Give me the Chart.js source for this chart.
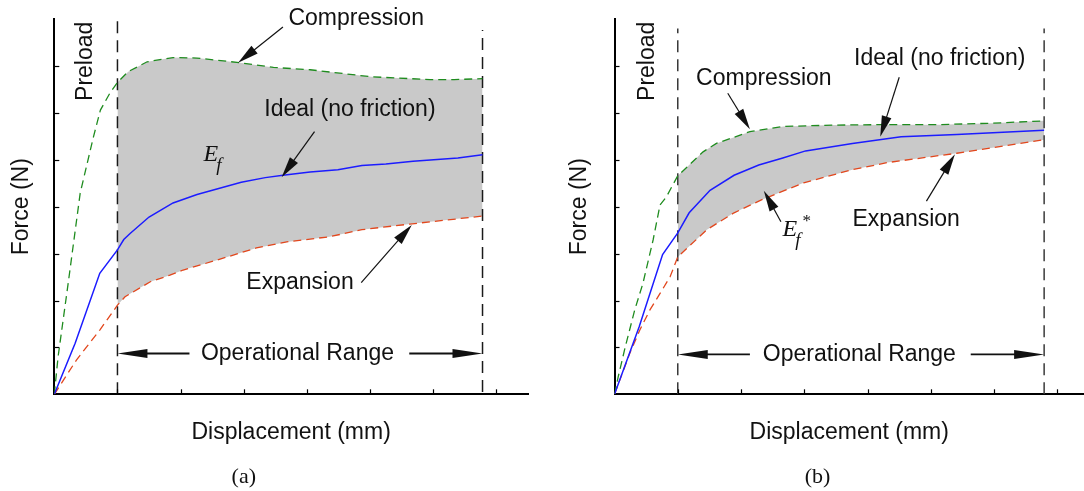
<!DOCTYPE html>
<html><head><meta charset="utf-8">
<script src="https://cdn.jsdelivr.net/npm/chart.js@4.4.1/dist/chart.umd.min.js"></script>
<style>
html,body{margin:0;padding:0;background:#fff;width:1084px;height:491px;overflow:hidden}
.wrap{position:absolute;top:0;height:491px}
#wa{left:0;width:540px}
#wb{left:540px;width:544px}
canvas{display:block}
</style></head><body>
<div class="wrap" id="wa"><canvas id="ca" width="540" height="491"></canvas></div>
<div class="wrap" id="wb"><canvas id="cb" width="544" height="491"></canvas></div>
<script>
// ---------- data (panel a) ----------
const aCompX  = [0, 0.06, 0.22, 0.41, 0.62, 0.73, 0.88, 1.0, 1.17, 1.47, 1.88, 2.26, 2.94, 3.47, 4.05, 5.02, 5.95, 6.33, 6.78];
const aCompY  = [0, 0.80, 2.37, 4.29, 5.49, 6.06, 6.42, 6.65, 6.88, 7.09, 7.18, 7.17, 7.07, 6.97, 6.92, 6.77, 6.71, 6.71, 6.73];
const aIdealX = [0, 0.33, 0.72, 1.0, 1.10, 1.20, 1.50, 1.88, 2.26, 2.96, 3.34, 3.62, 4.05, 4.49, 4.87, 5.25, 5.68, 6.39, 6.78];
const aIdealY = [0, 1.09, 2.58, 3.08, 3.30, 3.43, 3.78, 4.08, 4.26, 4.52, 4.62, 4.67, 4.74, 4.79, 4.88, 4.91, 4.97, 5.04, 5.11];
const aExpX   = [0, 0.35, 0.72, 1.0, 1.12, 1.52, 1.83, 2.04, 2.57, 3.20, 3.68, 4.36, 4.87, 5.63, 6.78];
const aExpY   = [0, 0.73, 1.37, 1.90, 2.08, 2.40, 2.54, 2.65, 2.86, 3.12, 3.25, 3.36, 3.51, 3.63, 3.80];
const aRange  = [1.0, 6.78];
// ---------- data (panel b) ----------
const bCompX  = [0, 0.06, 0.17, 0.32, 0.45, 0.61, 0.72, 0.82, 1.0, 1.40, 1.61, 2.14, 2.67, 3.46, 4.31, 5.13, 5.96, 6.79];
const bCompY  = [0, 0.38, 1.01, 1.80, 2.37, 3.29, 4.04, 4.21, 4.66, 5.17, 5.35, 5.60, 5.71, 5.74, 5.75, 5.75, 5.78, 5.83];
const bIdealX = [0, 0.39, 0.76, 1.0, 1.18, 1.51, 1.89, 2.28, 2.66, 3.02, 3.76, 4.53, 5.41, 6.79];
const bIdealY = [0, 1.44, 2.98, 3.44, 3.87, 4.35, 4.67, 4.89, 5.04, 5.19, 5.35, 5.49, 5.54, 5.63];
const bExpX   = [0, 0.24, 0.40, 0.56, 0.72, 0.88, 1.0, 1.46, 1.89, 2.33, 2.99, 3.76, 4.31, 5.41, 6.79];
const bExpY   = [0, 0.87, 1.37, 1.80, 2.15, 2.51, 2.93, 3.51, 3.87, 4.15, 4.51, 4.79, 4.94, 5.14, 5.43];
const bRange  = [1.0, 6.79];
// ---------- ticks / labels ----------
const tickValues = [1, 2, 3, 4, 5, 6, 7];
const xTitle = 'Displacement (mm)';
const yTitle = 'Force (N)';

const FONT = "'Liberation Sans', Arial, Helvetica, sans-serif";
const SERIF = "'Liberation Serif', 'Times New Roman', serif";
const GREEN = '#1f8c1f', RED = '#e2471d', BLUE = '#1c1cff', GRAY = '#c9c9c9';

function pts(xs, ys) { return xs.map((x, i) => ({x: x, y: ys[i]})); }
function band(xs, ys, lo, hi) { return pts(xs, ys).filter(p => p.x >= lo - 1e-9 && p.x <= hi + 1e-9); }

function arrow(ctx, x1, y1, x2, y2, len, half, lw) {
  const a = Math.atan2(y2 - y1, x2 - x1), c = Math.cos(a), s = Math.sin(a);
  ctx.lineWidth = lw;
  ctx.beginPath(); ctx.moveTo(x1, y1); ctx.lineTo(x2 - c * len * 0.9, y2 - s * len * 0.9); ctx.stroke();
  const bx = x2 - c * len, by = y2 - s * len;
  ctx.beginPath(); ctx.moveTo(x2, y2);
  ctx.lineTo(bx - s * half, by + c * half);
  ctx.lineTo(bx + s * half, by - c * half);
  ctx.closePath(); ctx.fill();
}

const annotPlugin = {
  id: 'annot',
  afterDraw(chart, args, o) {
    const ctx = chart.ctx, x = chart.scales.x, y = chart.scales.y;
    const px = v => x.getPixelForValue(v), py = v => y.getPixelForValue(v);
    ctx.save();
    // inward tick marks
    ctx.strokeStyle = '#000'; ctx.lineWidth = 1.2;
    tickValues.forEach(v => {
      const X = Math.round(px(v)) + 0.5;
      ctx.beginPath(); ctx.moveTo(X, py(0)); ctx.lineTo(X, py(0) - 5); ctx.stroke();
      const Y = Math.round(py(v)) + 0.5;
      ctx.beginPath(); ctx.moveTo(px(0), Y); ctx.lineTo(px(0) + 5, Y); ctx.stroke();
    });
    // text labels
    ctx.fillStyle = '#111'; ctx.strokeStyle = '#111';
    ctx.font = '23px ' + FONT; ctx.textAlign = 'center'; ctx.textBaseline = 'middle';
    o.labels.forEach(l => ctx.fillText(l.text, px(l.x), py(l.y)));
    ctx.save(); ctx.translate(px(o.preload.x), py(o.preload.y)); ctx.rotate(-Math.PI / 2);
    ctx.fillText('Preload', 0, 0); ctx.restore();
    // pointer arrows
    o.arrows.forEach(a => arrow(ctx, px(a.from[0]), py(a.from[1]), px(a.to[0]), py(a.to[1]), 21, 5, 1.2));
    // operational range arrows
    const r = o.range, ry = py(r.y);
    arrow(ctx, px(r.l1), ry, px(r.x0), ry, 30, 4.5, 1.8);
    arrow(ctx, px(r.r0), ry, px(r.x1), ry, 30, 4.5, 1.8);
    // E_f symbol
    const ex = px(o.ef.x), ey = py(o.ef.y);
    ctx.font = 'italic 24px ' + SERIF; ctx.fillText('E', ex, ey);
    ctx.font = 'italic 19px ' + SERIF; ctx.fillText('f', ex + 8, ey + 11);
    if (o.ef.star) { ctx.font = '17px ' + SERIF; ctx.fillText('*', ex + 17, ey - 9); }
    // caption
    ctx.font = '22px ' + SERIF; ctx.fillText(o.caption.text, px(o.caption.x), py(o.caption.y));
    ctx.restore();
  }
};

function makeChart(id, d, xmax, yPad, layoutPad, annot) {
  const datasets = [
    {label: 'Ideal (no friction)', data: pts(d.ix, d.iy), borderColor: BLUE, borderWidth: 1.5, order: 1},
    {label: 'Compression', data: pts(d.cx, d.cy), borderColor: GREEN, borderDash: [8, 5], borderWidth: 1.3, order: 2},
    {label: 'Expansion', data: pts(d.ex, d.ey), borderColor: RED, borderDash: [8, 5], borderWidth: 1.3, order: 3},
    {label: 'Range start', data: d.v1, borderColor: d.vcol, borderDash: [12, 7], borderWidth: 1.5, order: 4},
    {label: 'Range end', data: d.v2, borderColor: d.vcol, borderDash: [12, 7], borderWidth: 1.5, order: 5},
    {label: 'band top', data: band(d.cx, d.cy, d.range[0], d.range[1]), borderColor: 'rgba(0,0,0,0)', borderWidth: 1, fill: '+1', backgroundColor: GRAY, order: 10},
    {label: 'band bottom', data: band(d.ex, d.ey, d.range[0], d.range[1]), borderColor: 'rgba(0,0,0,0)', borderWidth: 1, fill: false, order: 11}
  ];
  return new Chart(document.getElementById(id), {
    type: 'line',
    data: {datasets},
    options: {
      responsive: false, animation: false, events: [],
      layout: {padding: layoutPad},
      elements: {point: {radius: 0}, line: {tension: 0}},
      plugins: {legend: {display: false}, tooltip: {enabled: false},
        filler: {drawTime: 'beforeDatasetsDraw'}, annot: annot},
      scales: {
        x: {type: 'linear', min: 0, max: xmax,
          ticks: {display: false}, grid: {display: false, drawTicks: false},
          border: {display: true, color: '#000', width: 2},
          title: {display: true, text: xTitle, color: '#111', font: {size: 23, family: FONT}, padding: {top: 24.6, bottom: 44.5}}},
        y: {type: 'linear', min: 0, max: 8,
          ticks: {display: false}, grid: {display: false, drawTicks: false},
          border: {display: true, color: '#000', width: 2},
          title: {display: true, text: yTitle, color: '#111', font: {size: 23, family: FONT}, padding: yPad}}
      }
    },
    plugins: [annotPlugin]
  });
}

makeChart('ca', {cx: aCompX, cy: aCompY, ix: aIdealX, iy: aIdealY, ex: aExpX, ey: aExpY, range: aRange,
  v1: [{x: aRange[0], y: 0}, {x: aRange[0], y: 8}], v2: [{x: aRange[1], y: 0.05}, {x: aRange[1], y: 7.77}], vcol: '#1a1a1a'},
  7.5, {top: 8.2, bottom: 18.5}, {left: 0, right: 12, top: 19.1, bottom: 0},
  {labels: [{text: 'Compression', x: 4.78, y: 8.02}, {text: 'Ideal (no friction)', x: 4.68, y: 6.06},
            {text: 'Expansion', x: 3.89, y: 2.37}, {text: 'Operational Range', x: 3.85, y: 0.87}],
   preload: {x: 0.49, y: 7.1},
   arrows: [{from: [3.62, 7.83], to: [2.91, 7.07]}, {from: [4.12, 5.60], to: [3.60, 4.63]}, {from: [4.86, 2.38], to: [5.66, 3.61]}],
   range: {y: 0.87, x0: 1.0, x1: 6.78, l1: 2.14, r0: 5.62},
   ef: {x: 2.48, y: 5.11, star: false},
   caption: {text: '(a)', x: 3.0, y: -1.76}});

makeChart('cb', {cx: bCompX, cy: bCompY, ix: bIdealX, iy: bIdealY, ex: bExpX, ey: bExpY, range: bRange,
  v1: [{x: bRange[0], y: 0}, {x: bRange[0], y: 7.8}], v2: [{x: bRange[1], y: 0}, {x: bRange[1], y: 7.8}], vcol: '#3a3a3a'},
  7.42, {top: 25.9, bottom: 21.0}, {left: 0, right: 0, top: 19.1, bottom: 0},
  {labels: [{text: 'Compression', x: 2.36, y: 6.72}, {text: 'Ideal (no friction)', x: 5.14, y: 7.16},
            {text: 'Expansion', x: 4.61, y: 3.72}, {text: 'Operational Range', x: 3.87, y: 0.85}],
   preload: {x: 0.52, y: 7.1},
   arrows: [{from: [1.79, 6.42], to: [2.14, 5.65]}, {from: [4.50, 6.76], to: [4.20, 5.49]},
            {from: [4.93, 4.12], to: [5.38, 5.12]}, {from: [2.63, 3.68], to: [2.36, 4.34]}],
   range: {y: 0.85, x0: 1.0, x1: 6.79, l1: 2.14, r0: 5.63},
   ef: {x: 2.77, y: 3.50, star: true},
   caption: {text: '(b)', x: 3.21, y: -1.76}});
</script>
</body></html>
